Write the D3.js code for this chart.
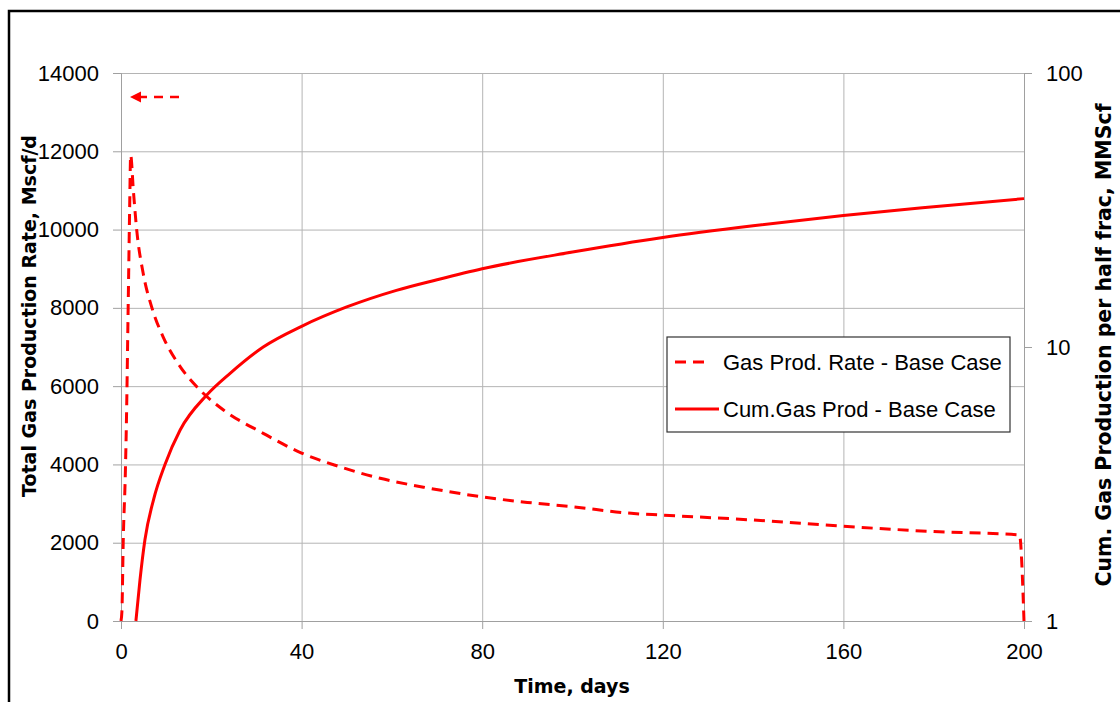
<!DOCTYPE html>
<html>
<head>
<meta charset="utf-8">
<script src="https://cdn.jsdelivr.net/npm/d3@7"></script>
<style>
  body { margin: 0; background: #fff; }
  svg { display: block; }
  .tick text { font-family: "Liberation Sans", Arial, sans-serif; font-size: 22px; fill: #000; }
</style>
</head>
<body>
<div id="chart"></div>
<script>
// gas rate, Mscf/d (dashed)
const rateDays = [0, 0.2, 0.5, 0.96, 1.26, 1.48, 1.7, 1.92, 2.14, 2.73, 3.48, 4.9, 6.8, 9.4, 13.1, 17.5, 22.7, 31.5, 40, 47.8, 57.4, 68.4, 80, 90, 100, 113, 120, 140, 160, 180, 199, 200];
const rateVals = [0, 240, 2070, 3770, 5475, 7180, 8890, 10580, 11900, 11010, 9990, 8890, 8020, 7240, 6500, 5900, 5390, 4795, 4290, 3965, 3645, 3390, 3170, 3030, 2920, 2750, 2705, 2580, 2420, 2285, 2200, 0];

// cumulative gas per half frac, MMScf (solid, log axis)
const cumDays = [3.3, 4.2, 5.3, 7.2, 9.7, 13.1, 19, 24.1, 31.5, 40, 50, 61, 70, 80, 100, 120, 140, 160, 180, 200];
const cumVals = [1, 1.41, 1.98, 2.77, 3.71, 4.98, 6.68, 8.0, 10.0, 11.9, 14.0, 16.1, 17.6, 19.3, 22.2, 25.1, 27.7, 30.2, 32.5, 34.8];

const xTicks = [0, 40, 80, 120, 160, 200];
const yLeftTicks = [0, 2000, 4000, 6000, 8000, 10000, 12000, 14000];
const yRightTicks = [1, 10, 100];
const seriesNames = ["Gas Prod. Rate - Base Case", "Cum.Gas Prod - Base Case"];

const W = 1120, H = 702;
const PLOT = { L: 121, R: 1024, T: 73, B: 621 };
const RED = "#ff0000", GRID = "#b4b4b4";

const svg = d3.select("#chart").append("svg").attr("width", W).attr("height", H);

// outer frame (runs off the right and bottom edge)
svg.append("rect")
  .attr("x", 9).attr("y", 11)
  .attr("width", W + 20).attr("height", H + 20)
  .attr("fill", "none").attr("stroke", "#000").attr("stroke-width", 2.5);

const x = d3.scaleLinear().domain([0, 200]).range([PLOT.L, PLOT.R]);
const yL = d3.scaleLinear().domain([0, 14000]).range([PLOT.B, PLOT.T]);
const yR = d3.scaleLog().domain([1, 100]).range([PLOT.B, PLOT.T]);

// gridlines
svg.append("g")
  .attr("transform", `translate(${PLOT.L},0)`)
  .call(d3.axisLeft(yL).tickValues(yLeftTicks).tickSize(-(PLOT.R - PLOT.L)).tickFormat(""))
  .call(g => g.select(".domain").remove())
  .call(g => g.selectAll("line").attr("stroke", GRID));
svg.append("g")
  .attr("transform", `translate(0,${PLOT.B})`)
  .call(d3.axisBottom(x).tickValues(xTicks).tickSize(-(PLOT.B - PLOT.T)).tickFormat(""))
  .call(g => g.select(".domain").remove())
  .call(g => g.selectAll("line").attr("stroke", GRID));

// axes
const styleAxis = g => {
  g.select(".domain").attr("stroke", "#a0a0a0");
  g.selectAll(".tick line").attr("stroke", "#a0a0a0");
};
svg.append("g")
  .attr("transform", `translate(${PLOT.L},0)`)
  .call(d3.axisLeft(yL).tickValues(yLeftTicks).tickSizeOuter(0).tickSize(8).tickPadding(14).tickFormat(d3.format("d")))
  .call(styleAxis);
svg.append("g")
  .attr("transform", `translate(0,${PLOT.B})`)
  .call(d3.axisBottom(x).tickValues(xTicks).tickSizeOuter(0).tickSize(8).tickPadding(14).tickFormat(d3.format("d")))
  .call(styleAxis);
svg.append("g")
  .attr("transform", `translate(${PLOT.R},0)`)
  .call(d3.axisRight(yR).tickValues(yRightTicks).tickSizeOuter(0).tickSize(8).tickPadding(14).tickFormat(d3.format("d")))
  .call(styleAxis);

// lines
const rateData = rateDays.map((d, i) => [d, rateVals[i]]);
const cumData = cumDays.map((d, i) => [d, cumVals[i]]);

svg.append("path")
  .datum(rateData)
  .attr("fill", "none").attr("stroke", RED).attr("stroke-width", 3)
  .attr("stroke-dasharray", "11,7")
  .attr("d", d3.line().x(d => x(d[0])).y(d => yL(d[1])).curve(d3.curveMonotoneX));

svg.append("path")
  .datum(cumData)
  .attr("fill", "none").attr("stroke", RED).attr("stroke-width", 3)
  .attr("d", d3.line().x(d => x(d[0])).y(d => yR(d[1])).curve(d3.curveMonotoneX));

// arrow pointing at the left axis
svg.append("line")
  .attr("x1", 179).attr("y1", 97).attr("x2", 139).attr("y2", 97)
  .attr("stroke", RED).attr("stroke-width", 2.5)
  .attr("stroke-dasharray", "9,7");
svg.append("path")
  .attr("d", "M130,97 L141,91.5 L141,102.5 Z")
  .attr("fill", RED);

// legend
const lg = svg.append("g").attr("transform", "translate(667,337)");
lg.append("rect").attr("width", 343).attr("height", 95)
  .attr("fill", "#fff").attr("stroke", "#333").attr("stroke-width", 1.2);
lg.append("line").attr("x1", 8).attr("x2", 44).attr("y1", 25).attr("y2", 25)
  .attr("stroke", RED).attr("stroke-width", 3).attr("stroke-dasharray", "11,7");
lg.append("line").attr("x1", 8).attr("x2", 52).attr("y1", 72).attr("y2", 72)
  .attr("stroke", RED).attr("stroke-width", 3);
lg.selectAll("text.item").data(seriesNames).join("text")
  .attr("class", "item")
  .attr("x", 56).attr("y", (d, i) => 25 + i * 47)
  .attr("dy", "0.35em")
  .attr("font-family", "Liberation Sans, Arial, sans-serif")
  .attr("font-size", 22)
  .text(d => d);

// axis titles
const title = svg.append("g")
  .attr("font-family", "DejaVu Sans, sans-serif")
  .attr("font-weight", "bold").attr("font-size", 19)
  .attr("text-anchor", "middle");
title.append("text").attr("x", 572).attr("y", 693).text("Time, days");
title.append("text")
  .attr("transform", "translate(36,316) rotate(-90)")
  .text("Total Gas Production Rate, Mscf/d");
title.append("text")
  .attr("transform", "translate(1111,345) rotate(-90)")
  .attr("font-size", 20.5)
  .text("Cum. Gas Production per half frac, MMScf");
</script>
</body>
</html>
